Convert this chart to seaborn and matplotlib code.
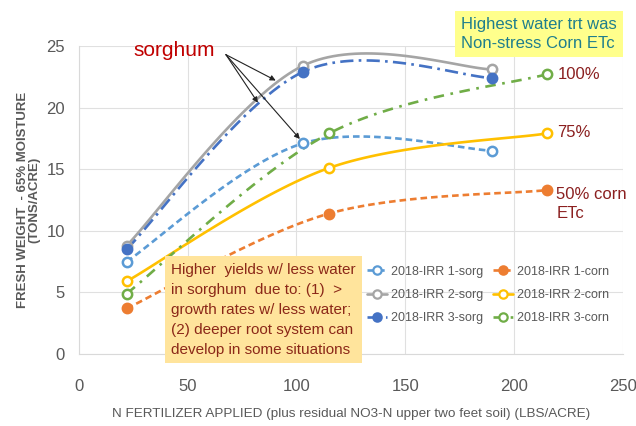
import numpy as np
import pandas as pd
import matplotlib
matplotlib.use("Agg")
import matplotlib.pyplot as plt
from matplotlib.lines import Line2D
import seaborn as sns

# ---- data ----
sorg_x = [22, 103, 190]
corn_x = [22, 115, 215]
irr1_sorg = [7.5, 17.1, 16.5]
irr2_sorg = [8.8, 23.4, 23.1]
irr3_sorg = [8.5, 22.9, 22.4]
irr1_corn = [3.7, 11.4, 13.3]
irr2_corn = [5.9, 15.1, 17.9]
irr3_corn = [4.9, 17.9, 22.7]
series_names = ["2018-IRR 1-sorg", "2018-IRR 2-sorg", "2018-IRR 3-sorg",
                "2018-IRR 1-corn", "2018-IRR 2-corn", "2018-IRR 3-corn"]
x_ticks = [0, 50, 100, 150, 200, 250]
y_ticks = [0, 5, 10, 15, 20, 25]

sns.set_theme(style="white")
plt.rcParams['font.family'] = ['Liberation Sans', 'DejaVu Sans']


def smooth(xs, ys, n=40):
    P = np.column_stack([xs, ys]).astype(float)
    m = len(P)
    ext = np.vstack([P[0], P, P[-1]])
    out = []
    for i in range(m - 1):
        p0, p1, p2, p3 = ext[i], ext[i + 1], ext[i + 2], ext[i + 3]
        c1 = p1 + (p2 - p0) / 6
        c2 = p2 - (p3 - p1) / 6
        t = np.linspace(0, 1, n)[:, None]
        seg = ((1 - t) ** 3) * p1 + 3 * ((1 - t) ** 2) * t * c1 + 3 * (1 - t) * t ** 2 * c2 + t ** 3 * p2
        out.append(seg if i == 0 else seg[1:])
    s = np.vstack(out)
    return s[:, 0], s[:, 1]


fig = plt.figure(figsize=(6.36, 4.26), dpi=100)
ax = fig.add_axes([0.124, 0.169, 0.855, 0.723])

styles = [
    # name, x, y, color, dashes, filled
    (series_names[0], sorg_x, irr1_sorg, "#5B9BD5", (2.5, 1.5), False),
    (series_names[1], sorg_x, irr2_sorg, "#A5A5A5", None, False),
    (series_names[2], sorg_x, irr3_sorg, "#4472C4", (5, 2, 1, 2), True),
    (series_names[3], corn_x, irr1_corn, "#ED7D31", (2.5, 1.5), True),
    (series_names[4], corn_x, irr2_corn, "#FFC000", None, False),
    (series_names[5], corn_x, irr3_corn, "#70AD47", (4, 2.5, 1, 2.5), False),
]

handles = []
for name, xs, ys, col, dash, filled in styles:
    sx, sy = smooth(xs, ys)
    line, = ax.plot(sx, sy, color=col, lw=1.9, solid_capstyle="butt")
    if dash is not None:
        line.set_dashes(dash)
    df = pd.DataFrame({"x": xs, "y": ys})
    sns.scatterplot(data=df, x="x", y="y", ax=ax, s=45, marker="o",
                    facecolor=col if filled else "white", edgecolor=col,
                    linewidth=1.8, zorder=5, legend=False)
    h = Line2D([0], [0], color=col, lw=1.9, marker="o", markersize=6,
               markerfacecolor=col if filled else "white", markeredgecolor=col,
               markeredgewidth=1.6)
    if dash is not None:
        h.set_dashes(dash)
    handles.append(h)

ax.set_xlim(0, 250)
ax.set_ylim(0, 25)
ax.set_xticks(x_ticks)
ax.set_yticks(y_ticks)
ax.tick_params(axis="x", labelsize=12, labelcolor="#595959", length=0, pad=18)
ax.tick_params(axis="y", labelsize=12, labelcolor="#595959", length=0, pad=10)
ax.grid(True, color="#E0E0E0", lw=0.8)
for sp in ["top", "right"]:
    ax.spines[sp].set_visible(False)
for sp in ["left", "bottom"]:
    ax.spines[sp].set_color("#D9D9D9")
    ax.spines[sp].set_linewidth(0.8)

ax.set_xlabel("N FERTILIZER APPLIED (plus residual NO3-N upper two feet soil) (LBS/ACRE)",
              fontsize=9.7, color="#595959", labelpad=10)
ax.set_ylabel("FRESH WEIGHT  - 65% MOISTURE\n(TONS/ACRE)", fontsize=9.5, color="#595959",
              fontweight="bold", labelpad=4, linespacing=1.0)

leg = ax.legend(handles, series_names, ncol=2, loc="lower right",
                bbox_to_anchor=(0.995, 0.06), frameon=False,
                handlelength=1.6, handletextpad=0.3,
                columnspacing=0.8, labelspacing=0.9,
                prop={"size": 9})
for t in leg.get_texts():
    t.set_color("#595959")

# annotations
ax.text(25, 24.6, "sorghum", fontsize=15, color="#C00000", ha="left", va="center")
for tx, ty in [(90.5, 22.2), (82.3, 20.4), (101.6, 17.45)]:
    ax.annotate("", xy=(tx, ty), xytext=(67.6, 24.3),
                arrowprops=dict(arrowstyle="-|>", color="#222222", lw=0.8,
                                mutation_scale=8, shrinkA=0, shrinkB=0))

ax.text(220, 22.7, "100%", fontsize=12, color="#8B2020", ha="left", va="center")
ax.text(220, 17.95, "75%", fontsize=12, color="#8B2020", ha="left", va="center")
ax.text(219.5, 12.2, "50% corn\nETc", fontsize=12, color="#8B2020", ha="left", va="center",
        linespacing=1.3)

fig.text(0.725, 0.920, "Highest water trt was\nNon-stress Corn ETc", fontsize=12, color="#1F7E8C",
         ha="left", va="center", linespacing=1.4,
         bbox=dict(boxstyle="square,pad=0.35", fc="#FFFF8C", ec="none"))

ax.text(42.5, 3.6, "Higher  yields w/ less water\nin sorghum  due to: (1)  >\ngrowth rates w/ less water;\n(2) deeper root system can\ndevelop in some situations",
        fontsize=11, color="#8B2818", ha="left", va="center", linespacing=1.55, zorder=6,
        clip_on=False,
        bbox=dict(boxstyle="square,pad=0.4", fc="#FFE49C", ec="none"))

fig.savefig("out.png", dpi=100)
